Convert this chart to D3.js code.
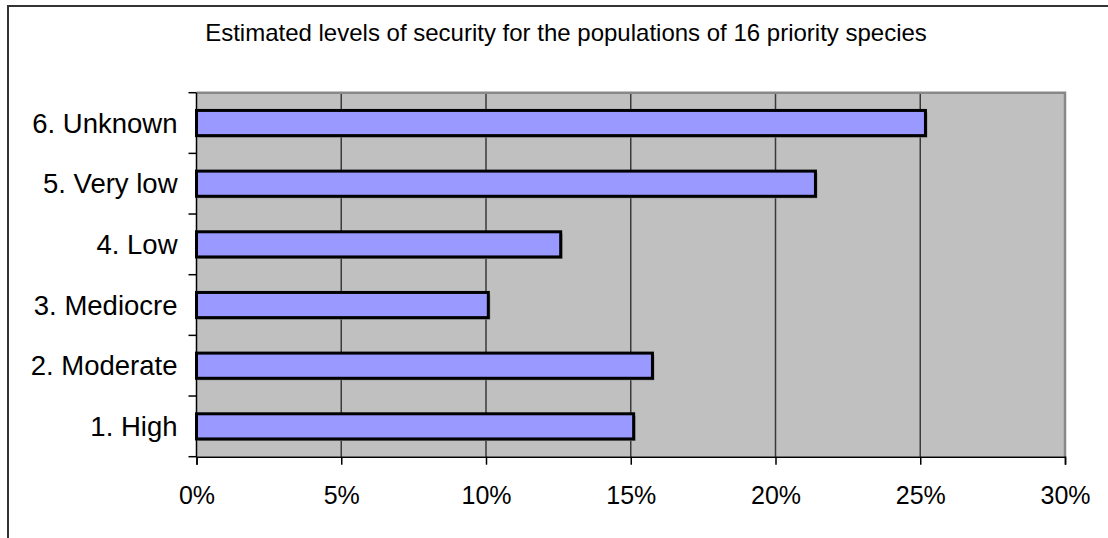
<!DOCTYPE html>
<html>
<head>
<meta charset="utf-8">
<script src="https://cdn.jsdelivr.net/npm/d3@7"></script>
<style>
  html, body { margin: 0; padding: 0; background: #fff; }
  svg { display: block; font-family: "Liberation Sans", Arial, sans-serif; }
</style>
</head>
<body>
<svg id="chart" width="1108" height="538"></svg>
<script>
// Security levels (bottom to top as drawn) and share of the 16 priority species
const categories = ["1. High", "2. Moderate", "3. Mediocre", "4. Low", "5. Very low", "6. Unknown"];
const shares = [15.1, 15.75, 10.08, 12.58, 21.38, 25.18];
const xTicks = [0, 5, 10, 15, 20, 25, 30];
const title = "Estimated levels of security for the populations of 16 priority species";

const svg = d3.select("#chart");
const W = 1108, H = 538;
const plot = { left: 196.5, right: 1065, top: 92.7, bottom: 456.7 };

// outer chart frame
svg.append("rect")
  .attr("x", 8).attr("y", 6)
  .attr("width", W + 10).attr("height", H + 10)
  .attr("fill", "#fff").attr("stroke", "#333").attr("stroke-width", 2);

const x = d3.scaleLinear().domain([0, 30]).range([plot.left, plot.right]);
const y = d3.scaleBand()
  .domain(categories.slice().reverse())
  .range([plot.top, plot.bottom])
  .paddingInner(0.585).paddingOuter(0.2925);
const yBand = d3.scaleBand()
  .domain(categories.slice().reverse())
  .range([plot.top, plot.bottom]);

// plot background
svg.append("rect")
  .attr("x", plot.left).attr("y", plot.top)
  .attr("width", plot.right - plot.left).attr("height", plot.bottom - plot.top)
  .attr("fill", "#c0c0c0");

// vertical gridlines
svg.append("g").selectAll("line")
  .data(xTicks.filter(t => t > 0 && t < 30))
  .join("line")
  .attr("x1", d => x(d)).attr("x2", d => x(d))
  .attr("y1", plot.top).attr("y2", plot.bottom)
  .attr("stroke", "#3a3a3a").attr("stroke-width", 1.5);

// plot border (top & right)
svg.append("path")
  .attr("d", `M${plot.left},${plot.top}H${plot.right}V${plot.bottom}`)
  .attr("fill", "none").attr("stroke", "#888").attr("stroke-width", 2.5);

// bar shadows
svg.append("g").selectAll("rect")
  .data(categories)
  .join("rect")
  .attr("x", plot.left + 2)
  .attr("y", (d) => y(d) + 2)
  .attr("width", (d, i) => x(shares[i]) - plot.left)
  .attr("height", y.bandwidth())
  .attr("fill", "#8a8a8a");

// bars
svg.append("g").selectAll("rect")
  .data(categories)
  .join("rect")
  .attr("x", plot.left)
  .attr("y", d => y(d))
  .attr("width", (d, i) => x(shares[i]) - plot.left)
  .attr("height", y.bandwidth())
  .attr("fill", "#9999ff")
  .attr("stroke", "#000").attr("stroke-width", 3);

// x axis
const xAxis = svg.append("g")
  .attr("transform", `translate(0,${plot.bottom})`)
  .call(d3.axisBottom(x).tickValues(xTicks).tickFormat(d => d + "%").tickSize(8).tickPadding(22));
xAxis.select(".domain").attr("stroke", "#000").attr("stroke-width", 1.5);
xAxis.selectAll(".tick line").attr("stroke", "#000").attr("stroke-width", 1.5);
xAxis.selectAll("text").attr("font-size", 25).attr("fill", "#000")
  .attr("font-family", "'Liberation Sans', Arial, sans-serif");

// y axis: ticks on category boundaries
const yAxisG = svg.append("g");
yAxisG.append("line")
  .attr("x1", plot.left).attr("x2", plot.left)
  .attr("y1", plot.top).attr("y2", plot.bottom)
  .attr("stroke", "#000").attr("stroke-width", 1.5);
const boundaries = categories.slice().reverse().map(c => yBand(c)).concat([plot.bottom]);
yAxisG.selectAll("line.tick")
  .data(boundaries)
  .join("line")
  .attr("class", "tick")
  .attr("x1", plot.left - 8).attr("x2", plot.left)
  .attr("y1", d => d).attr("y2", d => d)
  .attr("stroke", "#000").attr("stroke-width", 1.5);
yAxisG.selectAll("text")
  .data(categories)
  .join("text")
  .attr("x", plot.left - 19)
  .attr("y", d => yBand(d) + yBand.bandwidth() / 2)
  .attr("dy", "0.35em")
  .attr("text-anchor", "end")
  .attr("font-size", 27.5)
  .attr("fill", "#000")
  .text(d => d);

// title
svg.append("text")
  .attr("x", 566).attr("y", 41)
  .attr("text-anchor", "middle")
  .attr("font-size", 24)
  .attr("fill", "#000")
  .text(title);
</script>
</body>
</html>
